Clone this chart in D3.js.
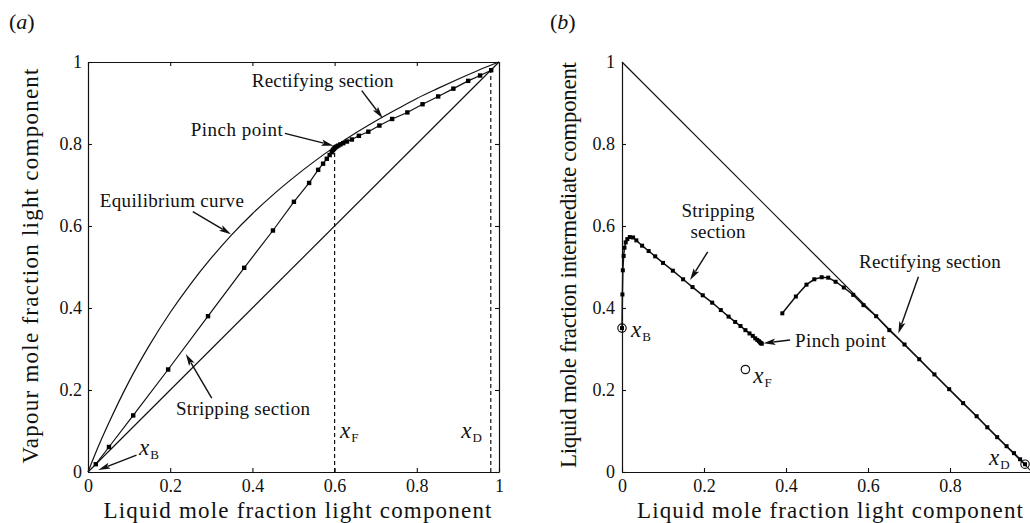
<!DOCTYPE html>
<html>
<head>
<meta charset="utf-8">
<script src="https://cdn.jsdelivr.net/npm/d3@7"></script>
<style>
  html, body { margin: 0; padding: 0; background: #fff; }
  svg { display: block; }
  text { font-family: "Liberation Serif", "Times New Roman", Times, serif; fill: #111; }
</style>
</head>
<body>
<svg id="chart" width="1030" height="523"></svg>
<script>
// ---------------- data ----------------
const ticksA = [0, 0.2, 0.4, 0.6, 0.8, 1];
const ticksBX = [0, 0.2, 0.4, 0.6, 0.8];
const ticksBY = [0, 0.2, 0.4, 0.6, 0.8, 1];

// (a) vapour–liquid equilibrium curve of the light component
const eqX = [0, 0.02, 0.05, 0.1, 0.15, 0.2, 0.25, 0.3, 0.35, 0.4, 0.45, 0.5, 0.55, 0.6, 0.65, 0.7, 0.75, 0.8, 0.85, 0.9, 0.95, 1];
const eqY = [0, 0.050, 0.118, 0.221, 0.310, 0.389, 0.459, 0.522, 0.579, 0.630, 0.676, 0.718, 0.757, 0.793, 0.826, 0.856, 0.884, 0.911, 0.935, 0.958, 0.980, 1];

// (a) y = x diagonal
const diagX = [0, 1];
const diagY = [0, 1];

// (a) stage-to-stage profile (stripping up to pinch, then rectifying)
const stageAX = [0.019, 0.051, 0.110, 0.195, 0.292, 0.380, 0.450, 0.501, 0.538, 0.560, 0.572, 0.581, 0.588, 0.593, 0.596, 0.598, 0.600,
                 0.602, 0.605, 0.609, 0.614, 0.621, 0.630, 0.642, 0.659, 0.682, 0.709, 0.740, 0.777, 0.814, 0.852, 0.889, 0.925, 0.954, 0.981];
const stageAY = [0.019, 0.061, 0.138, 0.250, 0.380, 0.498, 0.589, 0.659, 0.705, 0.737, 0.752, 0.764, 0.773, 0.780, 0.785, 0.788, 0.790,
                 0.792, 0.794, 0.796, 0.799, 0.802, 0.806, 0.811, 0.820, 0.830, 0.845, 0.861, 0.877, 0.897, 0.916, 0.935, 0.954, 0.967, 0.980];

// (a) feed and distillate compositions
const xFa = 0.6, yPinchA = 0.79;
const xDa = 0.98;

// (b) triangle edge x_L + x_I = 1
const edgeX = [0, 1];
const edgeY = [1, 0];

// (b) stripping-section profile
const stripX = [0.000, 0.001, 0.002, 0.004, 0.006, 0.009, 0.013, 0.019, 0.027, 0.035, 0.049, 0.065, 0.081, 0.100, 0.124, 0.149, 0.172, 0.197,
                0.220, 0.241, 0.260, 0.276, 0.289, 0.301, 0.311, 0.319, 0.325, 0.330, 0.334, 0.337, 0.339, 0.341];
const stripY = [0.351, 0.433, 0.492, 0.527, 0.547, 0.560, 0.568, 0.573, 0.572, 0.565, 0.552, 0.539, 0.526, 0.510, 0.491, 0.470, 0.451, 0.431,
                0.413, 0.395, 0.379, 0.366, 0.356, 0.346, 0.338, 0.332, 0.326, 0.322, 0.319, 0.316, 0.314, 0.313];

// (b) rectifying-section profile
const rectX = [0.391, 0.424, 0.450, 0.469, 0.487, 0.503, 0.521, 0.541, 0.564, 0.589, 0.620, 0.652, 0.689, 0.725, 0.762, 0.798, 0.832, 0.865,
               0.891, 0.915, 0.938, 0.956, 0.971, 0.983];
const rectY = [0.387, 0.428, 0.457, 0.470, 0.475, 0.474, 0.464, 0.450, 0.432, 0.407, 0.380, 0.346, 0.311, 0.275, 0.238, 0.202, 0.168, 0.136,
               0.109, 0.085, 0.063, 0.046, 0.031, 0.019];

// (b) product and feed compositions [x_light, x_intermediate]
const xBb = [0.000, 0.351];
const xFb = [0.301, 0.250];
const xDb = [0.983, 0.019];

// ---------------- drawing ----------------
const svg = d3.select("#chart");
const fmt = d => d3.format("~g")(d);
const zip = (xs, ys) => xs.map((x, i) => [x, ys[i]]);

function arrow(g, x1, y1, x2, y2) {
  const dx = x2 - x1, dy = y2 - y1, L = Math.hypot(dx, dy);
  const ux = dx / L, uy = dy / L, hl = 12, hw = 3.2;
  const bx = x2 - ux * hl, by = y2 - uy * hl;
  g.append("line").attr("x1", x1).attr("y1", y1).attr("x2", bx + ux * 2).attr("y2", by + uy * 2)
    .attr("stroke", "#111").attr("stroke-width", 1.4);
  g.append("path")
    .attr("d", `M${x2},${y2}L${bx - uy * hw},${by + ux * hw}L${bx + ux * 2.5},${by + uy * 2.5}L${bx + uy * hw},${by - ux * hw}Z`)
    .attr("fill", "#111");
}

function label(g, x, y, str, w, anchor = "middle", size = 19) {
  g.append("text").attr("x", x).attr("y", y).attr("text-anchor", anchor)
    .attr("font-size", size).attr("textLength", w).attr("lengthAdjust", "spacing").text(str);
}

function sublabel(g, x, y, sub) {
  const t = g.append("text").attr("x", x).attr("y", y);
  t.append("tspan").attr("font-style", "italic").attr("font-size", 23).text("x");
  t.append("tspan").attr("font-size", 13).attr("dx", 1).attr("dy", 4).text(sub);
}

function styleAxis(sel) {
  sel.attr("font-family", null);
  sel.select(".domain").attr("stroke", "#111").attr("stroke-width", 1.2);
  sel.selectAll(".tick line").attr("stroke", "#111").attr("stroke-width", 1.1);
  sel.selectAll(".tick text").attr("font-size", 18).attr("fill", "#111");
}

// ===== panel (a) =====
{
  const x = d3.scaleLinear().domain([0, 1]).range([88, 499]);
  const y = d3.scaleLinear().domain([0, 1]).range([472, 62]);
  const g = svg.append("g");

  g.append("g").attr("transform", "translate(0,472)")
    .call(d3.axisBottom(x).tickValues(ticksA).tickFormat(fmt).tickSizeInner(-4).tickSizeOuter(0).tickPadding(7))
    .call(styleAxis);
  g.append("g").attr("transform", "translate(0,62)")
    .call(d3.axisTop(x).tickValues(ticksA).tickFormat("").tickSizeInner(-4).tickSizeOuter(0))
    .call(styleAxis);
  g.append("g").attr("transform", "translate(88,0)")
    .call(d3.axisLeft(y).tickValues(ticksA).tickFormat(fmt).tickSizeInner(-4).tickSizeOuter(0).tickPadding(6))
    .call(styleAxis);
  g.append("g").attr("transform", "translate(499,0)")
    .call(d3.axisRight(y).tickValues(ticksA).tickFormat("").tickSizeInner(-4).tickSizeOuter(0))
    .call(styleAxis);

  const line = d3.line().x(d => x(d[0])).y(d => y(d[1]));
  const curve = d3.line().x(d => x(d[0])).y(d => y(d[1])).curve(d3.curveMonotoneX);

  g.append("path").attr("d", curve(zip(eqX, eqY))).attr("fill", "none").attr("stroke", "#111").attr("stroke-width", 1.2);
  g.append("path").attr("d", line(zip(diagX, diagY))).attr("fill", "none").attr("stroke", "#111").attr("stroke-width", 1.2);

  // dashed markers for feed and distillate
  g.append("line").attr("x1", x(xFa)).attr("x2", x(xFa)).attr("y1", y(0)).attr("y2", y(yPinchA))
    .attr("stroke", "#111").attr("stroke-width", 1.2).attr("stroke-dasharray", "4,3");
  g.append("line").attr("x1", x(xDa)).attr("x2", x(xDa)).attr("y1", y(0)).attr("y2", y(xDa))
    .attr("stroke", "#111").attr("stroke-width", 1.2).attr("stroke-dasharray", "4,3");

  const pts = zip(stageAX, stageAY);
  g.append("path").attr("d", line(pts)).attr("fill", "none").attr("stroke", "#111").attr("stroke-width", 1.2);
  g.selectAll("rect.stage").data(pts).join("rect").attr("class", "stage")
    .attr("x", d => x(d[0]) - 2.2).attr("y", d => y(d[1]) - 2.2).attr("width", 4.4).attr("height", 4.4).attr("fill", "#000");

  // annotations
  label(g, x(0.571), y(0.939), "Rectifying section", 141.7);
  arrow(g, x(0.666), y(0.930), x(0.717), y(0.863));
  label(g, x(0.362), y(0.820), "Pinch point", 92);
  arrow(g, x(0.479), y(0.826), x(0.597), y(0.796));
  label(g, x(0.204), y(0.646), "Equilibrium curve", 144);
  arrow(g, x(0.255), y(0.635), x(0.348), y(0.580));
  label(g, x(0.377), y(0.139), "Stripping section", 134);
  arrow(g, x(0.301), y(0.180), x(0.238), y(0.288));
  sublabel(g, x(0.124), y(0.041), "B");
  arrow(g, x(0.118), y(0.041), x(0.025), y(0.005));
  sublabel(g, x(0.613), y(0.083), "F");
  sublabel(g, x(0.908), y(0.083), "D");

  // axis titles
  g.append("text").attr("x", 297.5).attr("y", 518).attr("text-anchor", "middle").attr("font-size", 23)
    .attr("textLength", 388).attr("lengthAdjust", "spacing").text("Liquid mole fraction light component");
  g.append("text").attr("transform", "translate(38,266) rotate(-90)").attr("text-anchor", "middle").attr("font-size", 23)
    .attr("textLength", 395).attr("lengthAdjust", "spacing").text("Vapour mole fraction light component");

  const t = g.append("text").attr("x", 9).attr("y", 29).attr("font-size", 22);
  t.append("tspan").text("(");
  t.append("tspan").attr("font-style", "italic").text("a");
  t.append("tspan").text(")");
}

// ===== panel (b) =====
{
  const x = d3.scaleLinear().domain([0, 1]).range([622, 1032]);
  const y = d3.scaleLinear().domain([0, 1]).range([472, 62]);
  const g = svg.append("g");

  g.append("g").attr("transform", "translate(0,472)")
    .call(d3.axisBottom(x).tickValues(ticksBX).tickFormat(fmt).tickSizeInner(-4).tickSizeOuter(0).tickPadding(7))
    .call(styleAxis);
  g.append("g").attr("transform", "translate(622,0)")
    .call(d3.axisLeft(y).tickValues(ticksBY).tickFormat(fmt).tickSizeInner(-4).tickSizeOuter(0).tickPadding(7))
    .call(styleAxis);
  // no tick mark at the top of the vertical axis
  g.selectAll(".tick").filter(d => d === 1).select("line").remove();

  const line = d3.line().x(d => x(d[0])).y(d => y(d[1]));
  g.append("path").attr("d", line(zip(edgeX, edgeY))).attr("fill", "none").attr("stroke", "#111").attr("stroke-width", 1.2);

  const sp = zip(stripX, stripY), rp = zip(rectX, rectY);
  [sp, rp].forEach(p => {
    g.append("path").attr("d", line(p)).attr("fill", "none").attr("stroke", "#111").attr("stroke-width", 1.5);
    g.append("g").selectAll("rect").data(p).join("rect")
      .attr("x", d => x(d[0]) - 2).attr("y", d => y(d[1]) - 2).attr("width", 4).attr("height", 4).attr("fill", "#000");
  });

  [xBb, xFb, xDb].forEach(p => {
    g.append("circle").attr("cx", x(p[0])).attr("cy", y(p[1])).attr("r", 4.2)
      .attr("fill", "none").attr("stroke", "#111").attr("stroke-width", 1.2);
  });

  // annotations
  label(g, x(0.234), y(0.623), "Stripping", 73);
  label(g, x(0.234), y(0.570), "section", 55);
  arrow(g, x(0.209), y(0.537), x(0.166), y(0.468));
  label(g, x(0.751), y(0.497), "Rectifying section", 141.7);
  arrow(g, x(0.723), y(0.476), x(0.674), y(0.338));
  label(g, x(0.422), y(0.306), "Pinch point", 91, "start");
  arrow(g, x(0.410), y(0.322), x(0.345), y(0.314));
  sublabel(g, x(0.022), y(0.330), "B");
  sublabel(g, x(0.320), y(0.218), "F");
  sublabel(g, x(0.895), y(0.017), "D");

  g.append("text").attr("x", 830).attr("y", 518).attr("text-anchor", "middle").attr("font-size", 23)
    .attr("textLength", 386).attr("lengthAdjust", "spacing").text("Liquid mole fraction light component");
  g.append("text").attr("transform", "translate(576,265) rotate(-90)").attr("text-anchor", "middle").attr("font-size", 23)
    .attr("textLength", 406).attr("lengthAdjust", "spacing").text("Liquid mole fraction intermediate component");

  const t = g.append("text").attr("x", 550).attr("y", 29).attr("font-size", 22);
  t.append("tspan").text("(");
  t.append("tspan").attr("font-style", "italic").text("b");
  t.append("tspan").text(")");
}
</script>
</body>
</html>
